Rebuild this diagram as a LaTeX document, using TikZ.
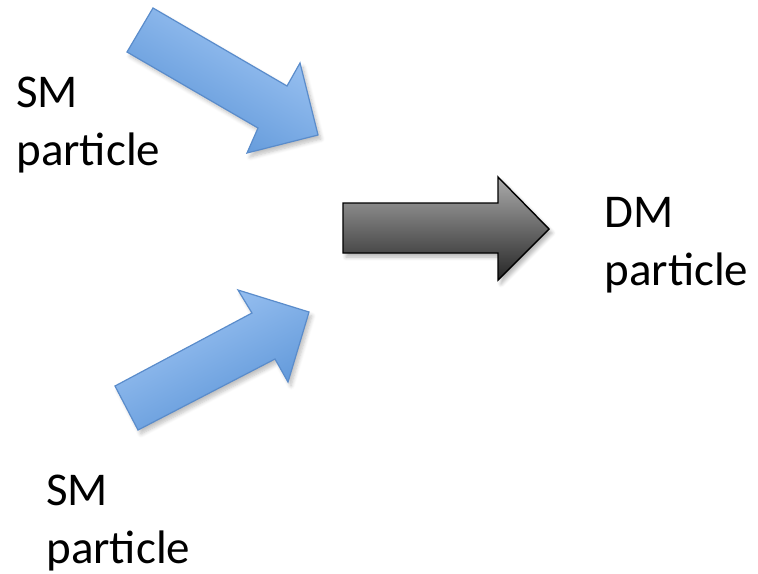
\documentclass[tikz,border=0pt]{standalone}
\usepackage{fontspec}
\setmainfont{Carlito}
\usetikzlibrary{shadows.blur}
\definecolor{blueLight}{HTML}{A3C8F5}
\definecolor{blueDark}{HTML}{5892D6}
\definecolor{blueEdge}{HTML}{5A8CCB}
\definecolor{grayLight}{HTML}{ABABAB}
\definecolor{grayDark}{HTML}{262626}
\tikzset{
  bluearrow/.style={draw=blueEdge, line width=0.6pt, line join=miter,
    top color=blueLight, bottom color=blueDark,
    blur shadow={shadow xshift=1.5pt, shadow yshift=-2pt, shadow blur steps=6, shadow opacity=25}},
  grayarrow/.style={draw=black, line width=0.7pt, line join=miter,
    top color=grayLight, bottom color=grayDark,
    blur shadow={shadow xshift=1.5pt, shadow yshift=-2pt, shadow blur steps=6, shadow opacity=30}},
  label/.style={anchor=base west, inner sep=0pt, align=left,
    font=\fontsize{23.5}{29}\selectfont}
}
\begin{document}
\begin{tikzpicture}[x=0.5pt, y=-0.5pt]
  \useasboundingbox (0,0) rectangle (758,573);

  % incoming particle from the upper left
  \path[bluearrow, shading angle=-30.5]
    (153,8) -- (287,86) -- (300,63) -- (318,135) -- (247,153) -- (258,128) -- (127,52) -- cycle;

  % incoming particle from the lower left
  \path[bluearrow, shading angle=27.7]
    (115,386) -- (252,313) -- (238,290) -- (309,312) -- (288,382) -- (275,359) -- (138,430) -- cycle;

  % outgoing dark matter particle
  \path[grayarrow]
    (343,203) -- (498,203) -- (498,177) -- (549,229) -- (498,280) -- (498,253) -- (343,253) -- cycle;

  % labels: the anchor sits on the baseline of the second line
  \node[label] (smTop) at (16,165) {SM\\particle};
  \node[label] (smBottom) at (46,563) {SM\\particle};
  \node[label] (dm) at (604,285) {DM\\particle};
\end{tikzpicture}
\end{document}
